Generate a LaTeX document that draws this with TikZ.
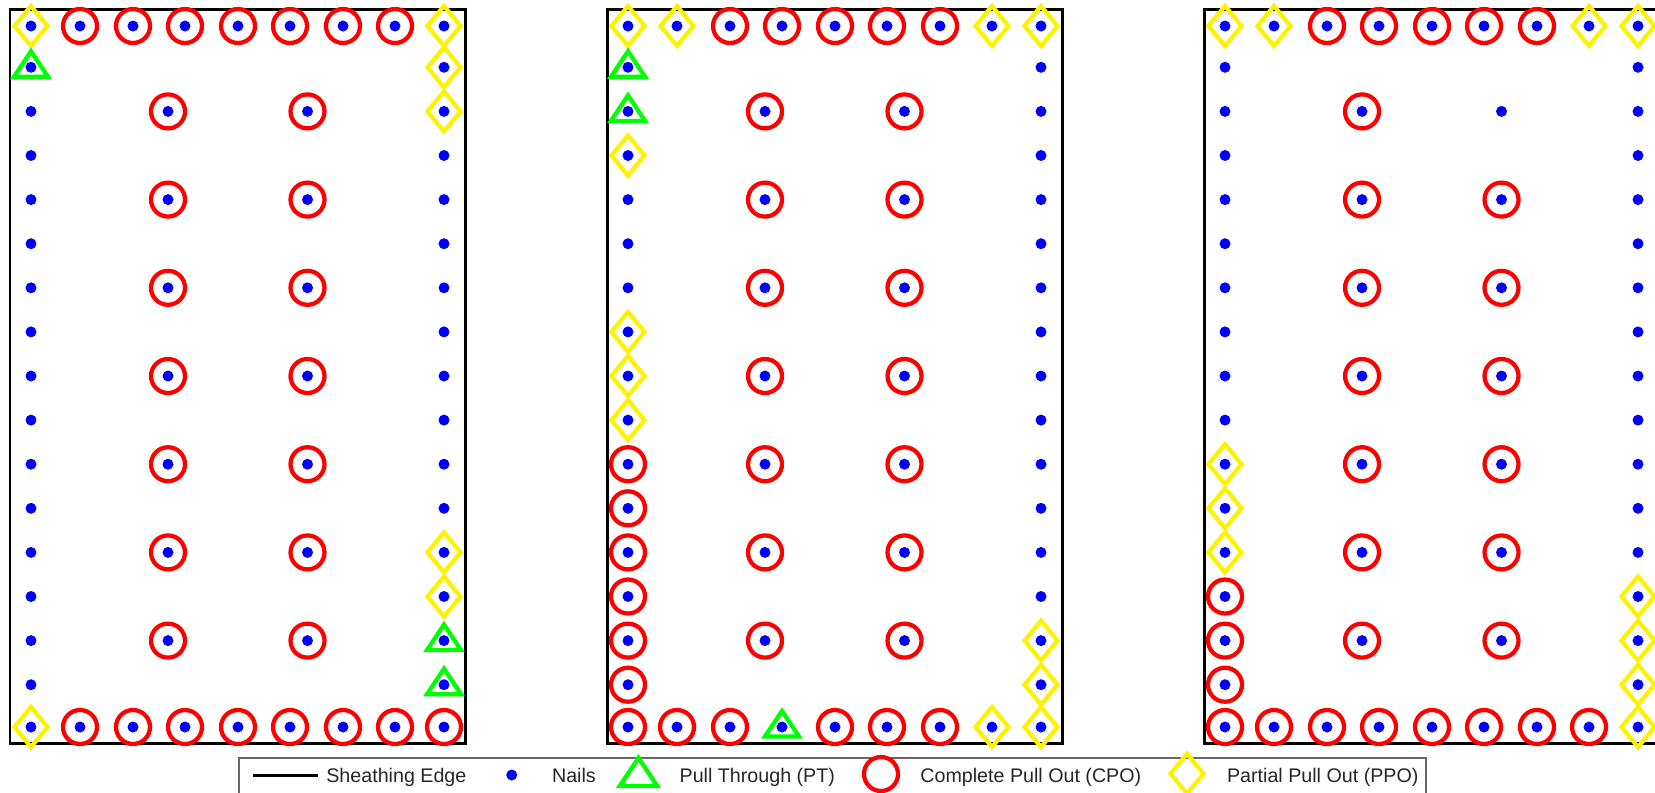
\documentclass[tikz,border=0pt]{standalone}
\usepackage{fontspec}
\setmainfont{Liberation Sans}
\usepackage{tikz}
\usetikzlibrary{shapes}

\tikzset{
    ppomark/.pic={\draw[yellow, line width=0.085cm] (0,-20) -- (16.5,0) -- (0,20) -- (-16.5,0) -- cycle;},
    ptmark/.pic={\draw[green, line width=0.085cm] (0,-16) -- (17,9.5) -- (-17,9.5) -- cycle;}
}

\begin{document}
\begin{tikzpicture}[x=0.02cm,y=-0.02cm,font=\fontsize{11.2}{13}\selectfont]
        \tikzstyle{nail} = [circle, fill=blue, inner sep=0pt, outer sep=0pt, minimum size=0.22cm]
        \tikzstyle{cpomark} = [circle, draw=red, line width=0.085cm, inner sep=0pt, outer sep=0pt, minimum size=0.68cm]
        \tikzstyle{sheet} = [line width=0.06cm]
        \tikzstyle{legtext} = [anchor=base west, inner sep=0pt, text=black!85]

        \useasboundingbox (0,0) rectangle (1655,792);
        \clip (0,0) rectangle (1655,792);

        % Sheathing panels and nails
        \foreach \p/\ox in {1/10,2/607,3/1204} {
            \draw[sheet] (\ox,9) rectangle ++(455,734);
            \foreach \c/\x in {0/21,1/70,2/123,3/175,4/228,5/280,6/333,7/385,8/434} {
                \node[nail] (p\p-t\c) at (\ox+\x,26) {};
                \node[nail] (p\p-b\c) at (\ox+\x,727) {};
            }
            \foreach \r in {1,...,15} {
                \node[nail] (p\p-l\r) at (\ox+21,23.2+44.1*\r) {};
                \node[nail] (p\p-r\r) at (\ox+434,23.2+44.1*\r) {};
            }
            \foreach \r in {2,4,...,14} {
                \node[nail] (p\p-m\r) at (\ox+158,23.2+44.1*\r) {};
                \node[nail] (p\p-n\r) at (\ox+297.5,23.2+44.1*\r) {};
            }
        }

        % Panel 1
        \foreach \n in {t1,t2,t3,t4,t5,t6,t7,b1,b2,b3,b4,b5,b6,b7,b8}
            \node[cpomark] (p1-\n-x) at (p1-\n) {};
        \foreach \n in {t0,t8,r1,r2,r12,r13,b0}
            \pic (p1-\n-x) at (p1-\n) {ppomark};
        \foreach \n in {l1,r14,r15}
            \pic (p1-\n-x) at (p1-\n) {ptmark};

        % Panel 2
        \foreach \n in {t2,t3,t4,t5,t6,l10,l11,l12,l13,l14,l15,b0,b1,b2,b4,b5,b6}
            \node[cpomark] (p2-\n-x) at (p2-\n) {};
        \foreach \n in {t0,t1,t7,t8,l3,l7,l8,l9,r14,r15,b7,b8}
            \pic (p2-\n-x) at (p2-\n) {ppomark};
        \foreach \n in {l1,l2,b3}
            \pic (p2-\n-x) at (p2-\n) {ptmark};

        % Panel 3
        \foreach \n in {t2,t3,t4,t5,t6,l13,l14,l15,b0,b1,b2,b3,b4,b5,b6,b7}
            \node[cpomark] (p3-\n-x) at (p3-\n) {};
        \foreach \n in {t0,t1,t7,t8,l10,l11,l12,r13,r14,r15,b8}
            \pic (p3-\n-x) at (p3-\n) {ppomark};

        % Inner field nails
        \foreach \p in {1,2,3}
            \foreach \r in {2,4,...,14} {
                \node[cpomark] (p\p-m\r-x) at (p\p-m\r) {};
                \ifnum\p\r=32 \else \node[cpomark] (p\p-n\r-x) at (p\p-n\r) {}; \fi
            }

        % Legend
        \draw[black!60, line width=0.6pt] (239,758) rectangle (1426,800);
        \coordinate (leg-a) at (253,775);
        \coordinate (leg-b) at (318,775);
        \draw[sheet] (leg-a) -- (leg-b);
        \node[legtext] (leg-sheet) at (326,782.3) {Sheathing Edge};
        \node[nail] (leg-nail) at (511.7,775) {};
        \node[legtext] (leg-nails) at (551.7,782.3) {Nails};
        \pic[scale=1.1] (leg-pt) at (638.5,775.5) {ptmark};
        \node[legtext] (leg-pttext) at (679.3,782.3) {Pull Through (PT)};
        \node[cpomark] (leg-cpo) at (881,774) {};
        \node[legtext] (leg-cpotext) at (920,782.3) {Complete Pull Out (CPO)};
        \pic (leg-ppo) at (1187,773.7) {ppomark};
        \node[legtext] (leg-ppotext) at (1226.7,782.3) {Partial Pull Out (PPO)};
\end{tikzpicture}
\end{document}
